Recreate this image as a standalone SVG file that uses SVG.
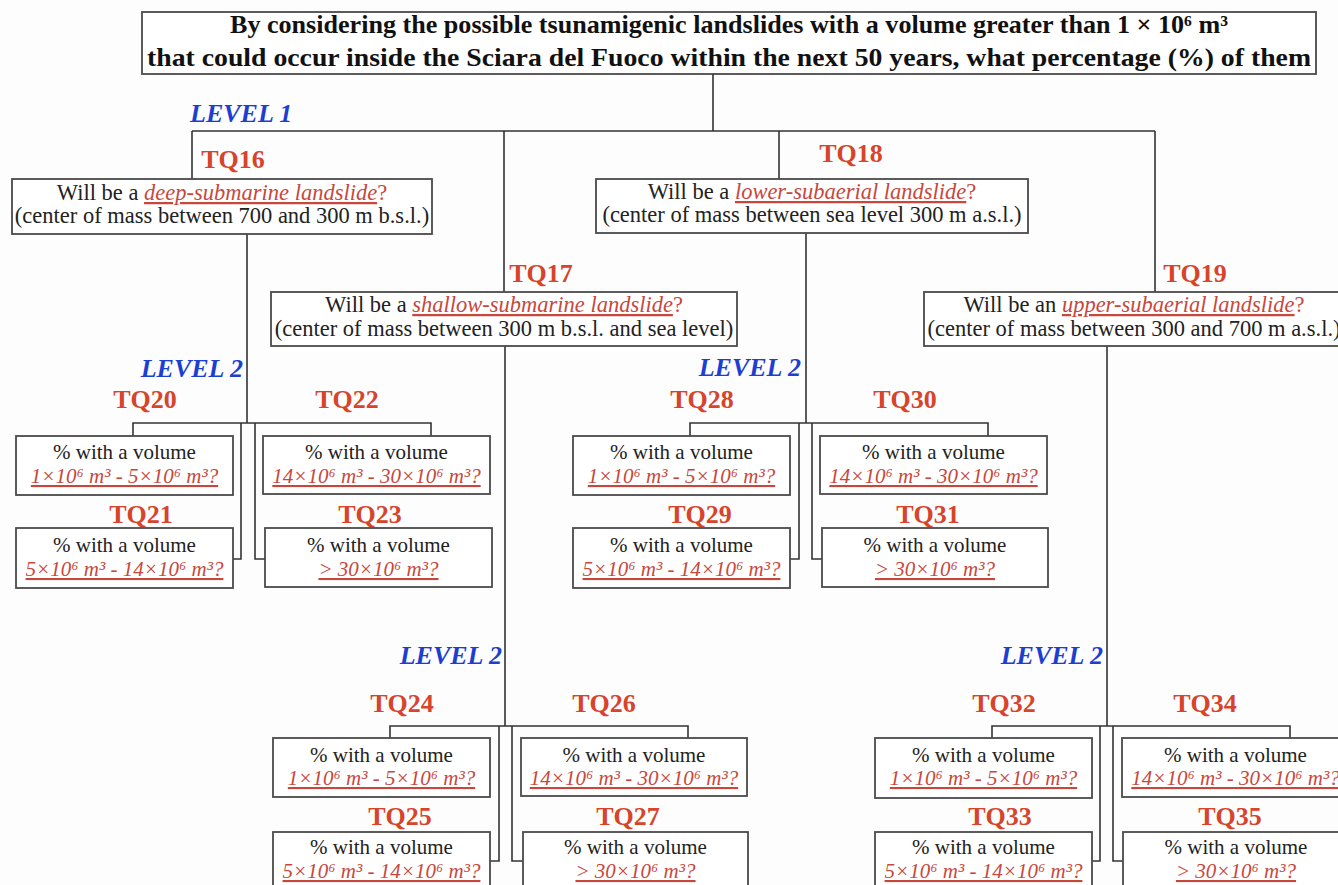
<svg xmlns="http://www.w3.org/2000/svg" width="1338" height="885" viewBox="0 0 1338 885">
<style>
.bg{fill:#fdfdfd}
.box{fill:#fff;stroke:#4a4a4a;stroke-width:1.8}
.ln{fill:none;stroke:#333;stroke-width:1.6}
.title{font-family:"Liberation Serif",serif;font-weight:bold;font-size:25px;fill:#111;text-anchor:middle}
.tq{font-family:"Liberation Serif",serif;font-weight:bold;font-size:26px;fill:#d7432b;text-anchor:middle}
.lvl{font-family:"Liberation Serif",serif;font-weight:bold;font-style:italic;font-size:26px;fill:#1c3fd2;text-anchor:end}
.t1{font-family:"Liberation Serif",serif;font-size:22.5px;fill:#222;text-anchor:middle}
.t2{font-family:"Liberation Serif",serif;font-size:21px;fill:#222;text-anchor:middle}
.em{fill:#c8473c;font-style:italic;text-decoration:underline}
.q{fill:#c8473c}
</style>
<rect class="bg" x="0" y="0" width="1338" height="885"/>

<g id="title">
<rect class="box" x="142" y="12" width="1174" height="62"/>
<text class="title" x="729" y="33" textLength="998" lengthAdjust="spacingAndGlyphs">By considering the possible tsunamigenic landslides with a volume greater than 1 × 10⁶ m³</text>
<text class="title" x="729" y="66" textLength="1164" lengthAdjust="spacingAndGlyphs">that could occur inside the Sciara del Fuoco within the next 50 years, what percentage (%) of them</text>
</g>

<g id="connectors">
<path class="ln" d="M713 74 V131 M192 131 H1155 M192 131 V179 M504 131 V292 M779 131 V179 M1155 131 V292
M247 234 V423 M133 436 V423 H431 V436 M241 423 V559 H233 M255 423 V559 H265
M806 233 V423 M690 436 V423 H988 V436 M799 423 V559 H790 M812 423 V559 H822
M505 346 V726 M390 738 V726 H688 V738 M499 726 V861 H490 M512 726 V861 H523
M1107 346 V726 M992 738 V726 H1290 V738 M1100 726 V861 H1092 M1113 726 V861 H1123"/>
</g>

<g id="levels">
<text class="lvl" x="190" y="122" style="text-anchor:start">LEVEL 1</text>
<text class="lvl" x="243" y="377">LEVEL 2</text>
<text class="lvl" x="801" y="376">LEVEL 2</text>
<text class="lvl" x="502" y="664">LEVEL 2</text>
<text class="lvl" x="1103" y="664">LEVEL 2</text>
</g>

<g id="TQ16">
<text class="tq" x="233" y="168">TQ16</text>
<rect class="box" x="12" y="179" width="420" height="55"/>
<text class="t1" x="222" y="200">Will be a <tspan class="em">deep-submarine landslide</tspan><tspan class="q">?</tspan></text>
<text class="t1" x="222" y="223">(center of mass between 700 and 300 m b.s.l.)</text>
</g>
<g id="TQ18">
<text class="tq" x="851" y="162">TQ18</text>
<rect class="box" x="596" y="179" width="432" height="54"/>
<text class="t1" x="812" y="199">Will be a <tspan class="em">lower-subaerial landslide</tspan><tspan class="q">?</tspan></text>
<text class="t1" x="812" y="222">(center of mass between sea level 300 m a.s.l.)</text>
</g>
<g id="TQ17">
<text class="tq" x="541" y="282">TQ17</text>
<rect class="box" x="271" y="292" width="466" height="54"/>
<text class="t1" x="504" y="312">Will be a <tspan class="em">shallow-submarine landslide</tspan><tspan class="q">?</tspan></text>
<text class="t1" x="504" y="336">(center of mass between 300 m b.s.l. and sea level)</text>
</g>
<g id="TQ19">
<text class="tq" x="1195" y="282">TQ19</text>
<rect class="box" x="924" y="292" width="420" height="54"/>
<text class="t1" x="1134" y="312">Will be an <tspan class="em">upper-subaerial landslide</tspan><tspan class="q">?</tspan></text>
<text class="t1" x="1134" y="336">(center of mass between 300 and 700 m a.s.l.)</text>
</g>

<g id="TQ20">
<text class="tq" x="145" y="408">TQ20</text>
<rect class="box" x="16" y="436" width="217" height="59"/>
<text class="t2" x="124.5" y="459">% with a volume</text>
<text class="t2 em" x="124.5" y="483">1×10⁶ m³ - 5×10⁶ m³?</text>
</g>
<g id="TQ21">
<text class="tq" x="141" y="523">TQ21</text>
<rect class="box" x="16" y="528" width="217" height="60"/>
<text class="t2" x="124.5" y="552">% with a volume</text>
<text class="t2 em" x="124.5" y="576">5×10⁶ m³ - 14×10⁶ m³?</text>
</g>
<g id="TQ22">
<text class="tq" x="347" y="408">TQ22</text>
<rect class="box" x="263" y="436" width="227" height="58"/>
<text class="t2" x="376.5" y="459">% with a volume</text>
<text class="t2 em" x="376.5" y="483">14×10⁶ m³ - 30×10⁶ m³?</text>
</g>
<g id="TQ23">
<text class="tq" x="370" y="523">TQ23</text>
<rect class="box" x="265" y="528" width="227" height="59"/>
<text class="t2" x="378.5" y="552">% with a volume</text>
<text class="t2 em" x="378.5" y="576">&gt; 30×10⁶ m³?</text>
</g>

<g id="TQ28">
<text class="tq" x="702" y="408">TQ28</text>
<rect class="box" x="573" y="436" width="217" height="59"/>
<text class="t2" x="681.5" y="459">% with a volume</text>
<text class="t2 em" x="681.5" y="483">1×10⁶ m³ - 5×10⁶ m³?</text>
</g>
<g id="TQ29">
<text class="tq" x="700" y="523">TQ29</text>
<rect class="box" x="573" y="528" width="217" height="60"/>
<text class="t2" x="681.5" y="552">% with a volume</text>
<text class="t2 em" x="681.5" y="576">5×10⁶ m³ - 14×10⁶ m³?</text>
</g>
<g id="TQ30">
<text class="tq" x="905" y="408">TQ30</text>
<rect class="box" x="820" y="436" width="227" height="58"/>
<text class="t2" x="933.5" y="459">% with a volume</text>
<text class="t2 em" x="933.5" y="483">14×10⁶ m³ - 30×10⁶ m³?</text>
</g>
<g id="TQ31">
<text class="tq" x="928" y="523">TQ31</text>
<rect class="box" x="822" y="528" width="226" height="59"/>
<text class="t2" x="935" y="552">% with a volume</text>
<text class="t2 em" x="935" y="576">&gt; 30×10⁶ m³?</text>
</g>

<g id="TQ24">
<text class="tq" x="402" y="712">TQ24</text>
<rect class="box" x="273" y="738" width="217" height="59"/>
<text class="t2" x="381.5" y="762">% with a volume</text>
<text class="t2 em" x="381.5" y="785">1×10⁶ m³ - 5×10⁶ m³?</text>
</g>
<g id="TQ25">
<text class="tq" x="400" y="825">TQ25</text>
<rect class="box" x="273" y="832" width="217" height="60"/>
<text class="t2" x="381.5" y="854">% with a volume</text>
<text class="t2 em" x="381.5" y="878">5×10⁶ m³ - 14×10⁶ m³?</text>
</g>
<g id="TQ26">
<text class="tq" x="604" y="712">TQ26</text>
<rect class="box" x="521" y="738" width="226" height="58"/>
<text class="t2" x="634" y="762">% with a volume</text>
<text class="t2 em" x="634" y="785">14×10⁶ m³ - 30×10⁶ m³?</text>
</g>
<g id="TQ27">
<text class="tq" x="628" y="825">TQ27</text>
<rect class="box" x="523" y="832" width="225" height="60"/>
<text class="t2" x="635.5" y="854">% with a volume</text>
<text class="t2 em" x="635.5" y="878">&gt; 30×10⁶ m³?</text>
</g>

<g id="TQ32">
<text class="tq" x="1004" y="712">TQ32</text>
<rect class="box" x="875" y="738" width="217" height="60"/>
<text class="t2" x="983.5" y="762">% with a volume</text>
<text class="t2 em" x="983.5" y="785">1×10⁶ m³ - 5×10⁶ m³?</text>
</g>
<g id="TQ33">
<text class="tq" x="1000" y="825">TQ33</text>
<rect class="box" x="875" y="832" width="217" height="60"/>
<text class="t2" x="983.5" y="854">% with a volume</text>
<text class="t2 em" x="983.5" y="878">5×10⁶ m³ - 14×10⁶ m³?</text>
</g>
<g id="TQ34">
<text class="tq" x="1205" y="712">TQ34</text>
<rect class="box" x="1122" y="738" width="227" height="59"/>
<text class="t2" x="1235.5" y="762">% with a volume</text>
<text class="t2 em" x="1235.5" y="785">14×10⁶ m³ - 30×10⁶ m³?</text>
</g>
<g id="TQ35">
<text class="tq" x="1230" y="825">TQ35</text>
<rect class="box" x="1123" y="832" width="226" height="60"/>
<text class="t2" x="1236" y="854">% with a volume</text>
<text class="t2 em" x="1236" y="878">&gt; 30×10⁶ m³?</text>
</g>
</svg>
